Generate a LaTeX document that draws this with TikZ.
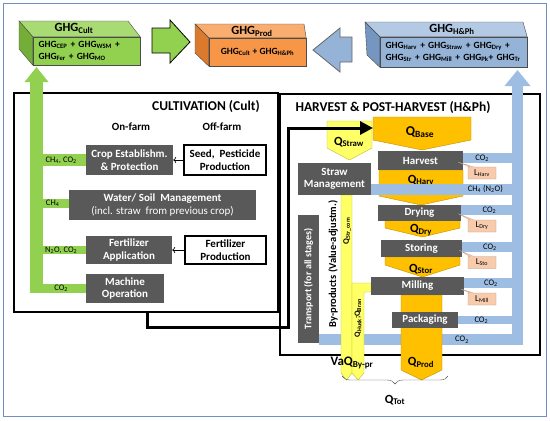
\documentclass[tikz,border=0pt]{standalone}
\usepackage{fontspec}
\setmainfont{Carlito}
\usepackage{tikz}
\usetikzlibrary{arrows.meta,shapes.callouts,decorations.pathreplacing}
\pgfdeclarelayer{back}
\pgfsetlayers{back,main}

\definecolor{procgray}{HTML}{595959}
\definecolor{cultgreen}{HTML}{92D050}
\definecolor{cultgreentop}{HTML}{A9DB74}
\definecolor{cultgreenside}{HTML}{74AE38}
\definecolor{prodorange}{HTML}{F79646}
\definecolor{prodorangetop}{HTML}{F9AE70}
\definecolor{prodorangeside}{HTML}{DB7A2C}
\definecolor{hphblue}{HTML}{95B3D7}
\definecolor{hphbluetop}{HTML}{B4CAE4}
\definecolor{hphblueside}{HTML}{7596C0}
\definecolor{bandblue}{HTML}{9DBDE2}
\definecolor{qgold}{HTML}{FFC000}
\definecolor{qgoldline}{HTML}{C09000}
\definecolor{strawyellow}{HTML}{FFFF66}
\definecolor{strawline}{HTML}{BDBD2E}
\definecolor{losspeach}{HTML}{F8CBAD}
\definecolor{bordblue}{HTML}{6F8FC4}

\newcommand\qs[1]{\textsubscript{#1}}

\tikzset{
  frame/.style={rectangle, draw, line width=1.3pt, inner sep=0pt},
  proc/.style={rectangle, fill=procgray, text=white, align=center, inner sep=0pt,
               font=\bfseries\fontsize{11}{12.5}\selectfont},
  offproc/.style={rectangle, draw, line width=1.2pt, fill=white, align=center, inner sep=0pt,
                  font=\bfseries\fontsize{11}{12.5}\selectfont},
  ghgfront/.style={rectangle, draw=black!70, thin, inner sep=0pt, align=left,
                   font=\bfseries\fontsize{9.5}{11.5}\selectfont},
  ghgface/.style={draw=black!70, thin},
  ghgtop/.style={inner sep=0pt, font=\bfseries\fontsize{12.5}{13}\selectfont},
  lossbox/.style={rectangle callout, fill=losspeach, draw=losspeach!75!black, very thin,
                  inner sep=0pt, minimum width=28pt, minimum height=12pt,
                  callout pointer width=4pt, font=\fontsize{9}{10}\selectfont},
  gband/.style={draw=cultgreen, line width=#1},
  bband/.style={draw=bandblue, line width=#1},
  gas/.style={inner sep=0pt, font=\fontsize{8.5}{9}\selectfont},
  qshape/.style={fill=qgold, draw=qgoldline, thin},
  strawshape/.style={fill=strawyellow, draw=strawline, thin},
  qlabel/.style={inner sep=0pt, font=\bfseries\fontsize{12.5}{13}\selectfont},
  heading/.style={inner sep=0pt, font=\bfseries\fontsize{13.5}{15}\selectfont},
  colhead/.style={inner sep=0pt, font=\bfseries\fontsize{11}{12}\selectfont},
}

\begin{document}
\begin{tikzpicture}[x=1pt,y=-1pt]
\useasboundingbox (0,0) rectangle (550,421);
\draw[bordblue, line width=1pt] (3,3) rectangle (546,416);

% the two stage frames
\node[frame, minimum width=264pt, minimum height=219pt] (cultframe) at (146,202.5) {};
\node[frame, minimum width=260pt, minimum height=261pt] (hphframe) at (410,224.5) {};

% GHG boxes on top
\node[ghgfront, fill=cultgreen, minimum width=107pt, minimum height=28pt, text width=96pt]
     (ghgcult) at (86.5,51) {GHG\qs{CEP} + GHG\qs{WSM} +\\GHG\qs{Fer} + GHG\qs{MO}};
\filldraw[ghgface, fill=cultgreentop] (ghgcult.north west) -- (19,21) -- (128,21) -- (ghgcult.north east) -- cycle;
\filldraw[ghgface, fill=cultgreenside] (ghgcult.north west) -- (19,21) -- (19,49) -- (ghgcult.south west) -- cycle;
\node[ghgtop] (ghgculttop) at (74,28) {GHG\qs{Cult}};

\node[ghgfront, fill=prodorange, minimum width=97pt, minimum height=28pt, align=center]
     (ghgprod) at (257.5,52) {GHG\qs{Cult} + GHG\qs{H\&Ph}};
\filldraw[ghgface, fill=prodorangetop] (ghgprod.north west) -- (195,24) -- (304,24) -- (ghgprod.north east) -- cycle;
\filldraw[ghgface, fill=prodorangeside] (ghgprod.north west) -- (195,24) -- (195,53) -- (ghgprod.south west) -- cycle;
\node[ghgtop] (ghgprodtop) at (252,31) {GHG\qs{Prod}};

\node[ghgfront, fill=hphblue, minimum width=147pt, minimum height=30pt, text width=136pt]
     (ghghph) at (453.5,52) {GHG\qs{Harv} + GHG\qs{Straw} + GHG\qs{Dry} +\\GHG\qs{Str} + GHG\qs{Mill} + GHG\qs{Pk}+ GHG\qs{Tr}};
\filldraw[ghgface, fill=hphbluetop] (ghghph.north west) -- (365,22) -- (523,22) -- (ghghph.north east) -- cycle;
\filldraw[ghgface, fill=hphblueside] (ghghph.north west) -- (365,22) -- (367,55) -- (ghghph.south west) -- cycle;
\node[ghgtop] (ghghphtop) at (452,29) {GHG\qs{H\&Ph}};

% block arrows between the GHG boxes
\filldraw[draw=black, fill=cultgreen, line width=0.8pt]
  (152,28) -- (170,28) -- (170,20) -- (190,42) -- (170,63) -- (170,53) -- (152,53) -- cycle;
\filldraw[draw=black!60, fill=hphblue, line width=0.8pt]
  (352,37) -- (340,37) -- (340,28) -- (313,50) -- (340,72) -- (340,62) -- (352,62) -- cycle;

% emission collectors
\coordinate (gbot) at (36.5,293);
\coordinate (gtip) at (36.5,67);
\draw[cultgreen, line width=13pt, -{Triangle[length=15pt,width=23pt]}] (gbot) -- (gtip);
\coordinate (bbot) at (517.5,345);
\coordinate (btip) at (517.5,70);
\draw[bandblue, line width=11pt, -{Triangle[length=16pt,width=25pt]}] (bbot) -- (btip);

% quantity flows
\filldraw[strawshape] (327,121) -- (372,121) -- (372,148) -- (349.5,160) -- (327,148) -- cycle;
\filldraw[strawshape] (341,195) -- (352,195) -- (352,373) -- (346.5,380) -- (341,373) -- cycle;
\filldraw[strawshape] (352,283) -- (371,283) -- (371,292) -- (364,292) -- (364,373) -- (358,380) -- (352,373) -- cycle;
\filldraw[qshape] (373,117) -- (471,117) -- (471,140) -- (422,150) -- (373,140) -- cycle;
\filldraw[qshape] (379,170) -- (463,170) -- (463,196) -- (421,205) -- (379,196) -- cycle;
\filldraw[qshape] (385,220) -- (460,220) -- (460,228) -- (422.5,237) -- (385,228) -- cycle;
\filldraw[qshape] (385,257) -- (460,257) -- (460,265) -- (422.5,277) -- (385,265) -- cycle;
\filldraw[qshape] (401,295) -- (442,295) -- (442,370) -- (421.5,380) -- (401,370) -- cycle;

% cultivation
\node[heading] (culttitle) at (206,107) {CULTIVATION (Cult)};
\node[colhead] (onfarm) at (131,127) {On-farm};
\node[colhead] (offfarm) at (222,127) {Off-farm};
\node[proc, minimum width=87pt, minimum height=30pt] (cep) at (129.5,160) {Crop Establishm.\\\& Protection};
\node[offproc, minimum width=82pt, minimum height=30pt] (seed) at (225,160) {Seed,\ \ Pesticide\\Production};
\node[proc, minimum width=187pt, minimum height=30pt] (wsm) at (162.5,205)
     {Water/ Soil\ \ Management\\{\mdseries (incl. straw\ \ from previous crop)}};
\node[proc, minimum width=86pt, minimum height=28pt] (fer) at (129,250) {Fertilizer\\Application};
\node[offproc, minimum width=81pt, minimum height=28pt] (ferprod) at (225.5,250) {Fertilizer\\Production};
\node[proc, minimum width=78pt, minimum height=29pt] (mo) at (125,288.5) {Machine\\Operation};
\draw[->, semithick] (seed) -- (cep);
\draw[->, semithick] (ferprod) -- (fer);

\draw[gband=12pt] (cep.west) -- (cep.west -| gbot) node[gas, midway] {CH\qs{4}, CO\qs{2}};
\draw[gband=9pt] ([yshift=1.5pt]wsm.west) -- ([yshift=1.5pt]wsm.west -| gbot) node[gas, midway] {CH\qs{4}};
\draw[gband=8pt] (fer.west) -- (fer.west -| gbot) node[gas, midway] {N\qs{2}O, CO\qs{2}};
\draw[gband=9pt] (mo.west) -- (mo.west -| gbot) node[gas, midway] {CO\qs{2}};

% harvest and post-harvest
\node[heading] (hphtitle) at (393,108) {HARVEST \& POST-HARVEST (H\&Ph)};
\node[proc, minimum width=85pt, minimum height=19pt] (harv) at (420.5,160.5) {Harvest};
\node[proc, minimum width=73pt, minimum height=32pt] (straw) at (334.5,179) {Straw\\Management};
\node[proc, minimum width=83pt, minimum height=16pt] (dry) at (419.5,212.5) {Drying};
\node[proc, minimum width=81pt, minimum height=17pt] (stor) at (421.5,248.5) {Storing};
\node[proc, minimum width=93pt, minimum height=18pt] (mill) at (417.5,286) {Milling};
\node[proc, minimum width=66pt, minimum height=16pt] (pack) at (425,320) {Packaging};
\node[proc, minimum width=21pt, minimum height=128pt, font=\bfseries\fontsize{10}{11}\selectfont]
     (transport) at (308.5,279) {\rotatebox{90}{Transport (for all stages)}};

\node[qlabel, font=\bfseries\fontsize{13.5}{14}\selectfont] (qbaselab) at (420,132) {Q\qs{Base}};
\node[qlabel] (qstrawlab) at (349,142) {Q\qs{Straw}};
\node[qlabel] (qharvlab) at (421,180) {Q\qs{Harv}};
\node[qlabel] (qdrylab) at (421,230) {Q\qs{Dry}};
\node[qlabel] (qstorlab) at (421,269) {Q\qs{Stor}};
\node[qlabel] (qprodlab) at (421,362) {Q\qs{Prod}};
\node[inner sep=0pt, rotate=90, font=\bfseries\fontsize{8.5}{9}\selectfont] (qstrcom) at (347,231) {Q\qs{Str\_com}};
\node[inner sep=0pt, rotate=90, font=\bfseries\fontsize{8}{9}\selectfont] (qhusk) at (358,318) {Q\qs{Husk};Q\qs{Bran}};
\node[inner sep=0pt, rotate=90, font=\bfseries\fontsize{10.5}{11}\selectfont] (byprod) at (333,264) {By-products (Value-adjustm.)};
\node[qlabel, font=\bfseries\fontsize{13}{14}\selectfont] (vaqlab) at (352,363) {VaQ\qs{By-pr}};

% the straw from cultivation into the base quantity
\coordinate (cultout) at (147,312);
\coordinate (qbasein) at (373,128);
\draw[line width=3pt, -{Triangle[length=13pt,width=13pt]}] (cultout) |- (288,327) -- (288,128) -- (qbasein);

\draw[bband=10pt] ([yshift=2.5pt]harv.east) -- ([yshift=2.5pt]harv.east -| bbot) node[gas, pos=0.35] {CO\qs{2}};
\draw[bband=11pt] ([yshift=-10pt]straw.east) -- ([yshift=-10pt]straw.east -| bbot) node[gas, pos=0.78] {CH\qs{4} (N\qs{2}O)};
\draw[bband=10pt] ([yshift=2.5pt]dry.east) -- ([yshift=2.5pt]dry.east -| bbot) node[gas, midway] {CO\qs{2}};
\draw[bband=10pt] ([yshift=1.5pt]stor.east) -- ([yshift=1.5pt]stor.east -| bbot) node[gas, midway] {CO\qs{2}};
\draw[bband=10pt] ([yshift=3pt]mill.east) -- ([yshift=3pt]mill.east -| bbot) node[gas, midway] {CO\qs{2}};
\draw[bband=8pt] (pack.east) -- (pack.east -| bbot) node[gas, pos=0.39] {CO\qs{2}};
\begin{pgfonlayer}{back}
\draw[bband=11pt] ([yshift=3.5pt]transport.south east) -- ([yshift=3.5pt]transport.south east -| bbot)
     node[gas, pos=0.72] {CO\qs{2}};
\end{pgfonlayer}

% losses
\node[lossbox, callout absolute pointer={([xshift=-5pt,yshift=8pt]harv.south east)}] (lharv) at (482,173) {L\qs{Harv}};
\node[lossbox, callout absolute pointer={([xshift=-3pt,yshift=7pt]dry.south east)}] (ldry) at (482,226) {L\qs{Dry}};
\node[lossbox, callout absolute pointer={([xshift=-3pt,yshift=7pt]stor.south east)}] (lsto) at (482,262.5) {L\qs{Sto}};
\node[lossbox, callout absolute pointer={([xshift=-3pt,yshift=6pt]mill.south east)}] (lmill) at (482,299) {L\qs{Mill}};

% total quantity
\coordinate (totR) at (448,376);
\coordinate (totL) at (342,376);
\draw[decorate, decoration={brace, amplitude=8pt}, thin, black!70] (totR) -- (totL);
\node[qlabel] (qtot) at (395,400) {Q\qs{Tot}};
\end{tikzpicture}
\end{document}
